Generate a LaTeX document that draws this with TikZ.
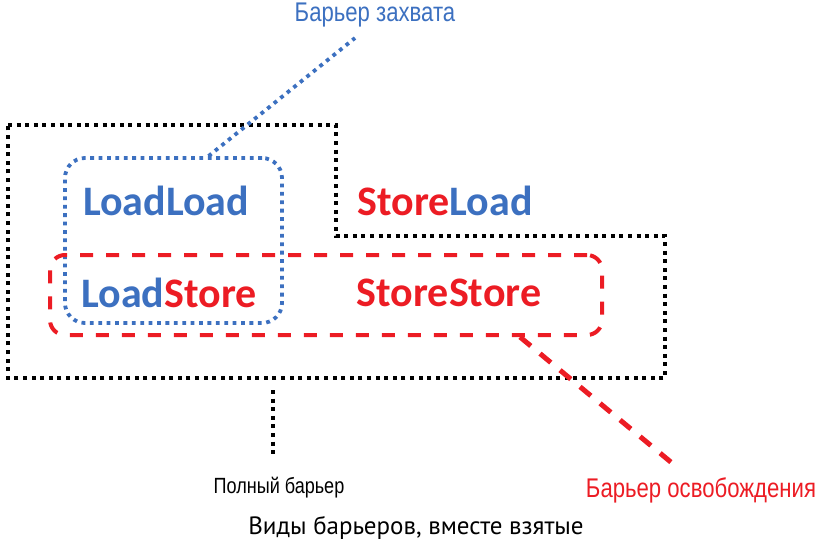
\documentclass[tikz,border=0pt]{standalone}
\usepackage{fontspec}
\setmainfont{Carlito}
\newfontfamily\narrowfont[FakeStretch=0.82]{Liberation Sans}
\newfontfamily\capfont{PT Sans}
\usetikzlibrary{positioning}
\definecolor{acqblue}{HTML}{3C70C0}
\definecolor{relred}{HTML}{EC1C24}
\tikzset{
  full/.style={draw=black, line width=4pt, dash pattern=on 4pt off 4.6pt},
  acq/.style={draw=acqblue, line width=3.8pt, dash pattern=on 3.8pt off 4.6pt},
  rel/.style={draw=relred, line width=4pt, dash pattern=on 13pt off 13pt},
  kw/.style={font=\fontsize{42}{48}\selectfont\bfseries, inner sep=0pt},
  lbl/.style={font=\narrowfont\fontsize{27}{32}\selectfont, inner sep=0pt},
}

\begin{document}
\begin{tikzpicture}[x=1pt,y=-1pt]
  \useasboundingbox (0,0) rectangle (822,551);
  % full barrier outline
  \draw[full] (8,125) -- (336,125) -- (336,236) -- (665,236) -- (665,378) -- (8,378) -- cycle;
  % barrier kinds
  \node[kw, text=acqblue] (ll) at (166,201) {LoadLoad};
  \node[kw] (sl) at (445,201) {\textcolor{relred}{Store}\textcolor{acqblue}{Load}};
  \node[kw] (ls) at (169,293) {\textcolor{acqblue}{Load}\textcolor{relred}{Store}};
  \node[kw, text=relred] (ss) at (449,293) {StoreStore};
  % acquire and release frames
  \node[acq, rounded corners=20pt, minimum width=217pt, minimum height=165pt] (acqbox) at (173.5,240.5) {};
  \node[rel, rounded corners=15pt, minimum width=552pt, minimum height=80pt] (relbox) at (326,295) {};
  % labels
  \node[lbl, text=acqblue] (acqlbl) at (375,15) {Барьер захвата};
  \node[lbl, text=relred] (rellbl) at (701,490) {Барьер освобождения};
  \node[lbl, font=\narrowfont\fontsize{22}{26}\selectfont] (fulllbl) at (279,488) {Полный барьер};
  \node[inner sep=0pt, font=\capfont\fontsize{25}{30}\selectfont] (cap) at (416,528) {Виды барьеров, вместе взятые};
  % pointers
  \coordinate (acqend) at (355,38);
  \coordinate (relend) at (678,468);
  \coordinate (fulltop) at (273,390);
  \coordinate (fullend) at (273,455);
  \draw[acq] ([xshift=35pt]acqbox.north) -- (acqend);
  \draw[rel, line width=5pt, dash pattern=on 14pt off 12pt] ([xshift=194pt]relbox.south) -- (relend);
  \draw[full] (fulltop) -- (fullend);
\end{tikzpicture}
\end{document}
